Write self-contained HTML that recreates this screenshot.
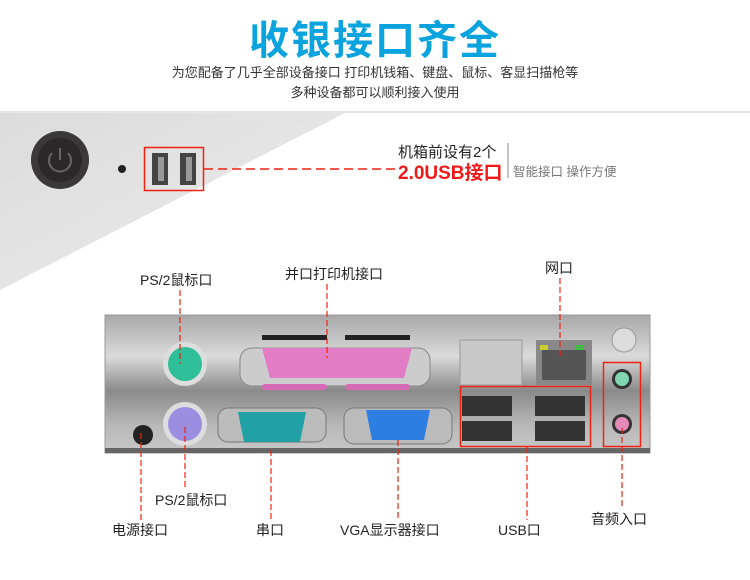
<!DOCTYPE html>
<html><head><meta charset="utf-8"><style>
body{margin:0;width:750px;height:580px;background:#fff;overflow:hidden;font-family:"Liberation Sans","Noto Sans CJK SC",sans-serif;position:relative}
.t{position:absolute;white-space:nowrap}
</style></head><body>
<div class="t" style="left:0;width:750px;top:8px;text-align:center;font-size:40px;font-weight:bold;color:#0aa3dd;letter-spacing:2px">收银接口齐全</div>
<div class="t" style="left:0;width:750px;top:63px;text-align:center;font-size:13px;color:#333;line-height:20px">为您配备了几乎全部设备接口 打印机钱箱、键盘、鼠标、客显扫描枪等<br>多种设备都可以顺利接入使用</div>
<svg width="750" height="580" style="position:absolute;left:0;top:0">
<defs>
<linearGradient id="bg" x1="0" y1="0" x2="1" y2="1"><stop offset="0" stop-color="#dcdcdc"/><stop offset="1" stop-color="#ececec"/></linearGradient>
<linearGradient id="pn" x1="0" y1="0" x2="0" y2="1"><stop offset="0" stop-color="#a8a8a8"/><stop offset=".3" stop-color="#dadada"/><stop offset=".55" stop-color="#8a8a8a"/><stop offset=".8" stop-color="#b8b8b8"/><stop offset="1" stop-color="#c8c8c8"/></linearGradient>
</defs>
<line x1="0" y1="112" x2="750" y2="112" stroke="#ccc"/>
<polygon points="0,113 345,113 0,290" fill="url(#bg)"/>
<circle cx="60" cy="160" r="29" fill="#3a3838"/><circle cx="60" cy="160" r="22" fill="#2a2828"/>
<path d="M52,153 a11,11 0 1,0 16,0" fill="none" stroke="#666" stroke-width="2"/><line x1="60" y1="148" x2="60" y2="160" stroke="#666" stroke-width="2"/>
<circle cx="122" cy="169" r="4" fill="#222"/>
<rect x="152" y="153" width="16" height="32" fill="#444"/><rect x="180" y="153" width="16" height="32" fill="#444"/>
<rect x="158" y="157" width="6" height="24" fill="#999"/><rect x="186" y="157" width="6" height="24" fill="#999"/>
<rect x="144.5" y="147.5" width="59" height="43" fill="none" stroke="#e21" stroke-width="1.5"/>
<line x1="204" y1="169" x2="396" y2="169" stroke="#e21" stroke-width="1.5" stroke-dasharray="9,5"/>
<line x1="508" y1="143" x2="508" y2="178" stroke="#888"/>
<rect x="105" y="315" width="545" height="138" fill="url(#pn)" stroke="#999"/>
<rect x="105" y="448" width="545" height="5" fill="#666"/>
<circle cx="624" cy="340" r="12" fill="#ddd" stroke="#999"/>
<circle cx="185" cy="364" r="22" fill="#ddd"/><circle cx="185" cy="364" r="17" fill="#2fbf98"/>
<circle cx="185" cy="424" r="22" fill="#ddd"/><circle cx="185" cy="424" r="17" fill="#9b8ee0"/>
<circle cx="143" cy="435" r="10" fill="#222"/>
<rect x="240" y="348" width="190" height="38" rx="12" fill="#ccc" stroke="#888"/>
<path d="M262,348 h150 l-8,30 h-134z" fill="#e17cc5"/>
<rect x="262" y="384" width="65" height="6" rx="3" fill="#d86bb5"/><rect x="345" y="384" width="65" height="6" rx="3" fill="#d86bb5"/>
<rect x="262" y="335" width="65" height="5" fill="#222"/><rect x="345" y="335" width="65" height="5" fill="#222"/>
<rect x="218" y="408" width="108" height="34" rx="10" fill="#bbb" stroke="#777"/>
<path d="M238,412 h68 l-6,30 h-56z" fill="#21a0a6"/>
<rect x="344" y="408" width="108" height="36" rx="10" fill="#bbb" stroke="#777"/>
<path d="M366,410 h64 l-6,30 h-52z" fill="#2d7ee0"/>
<rect x="460" y="340" width="62" height="45" fill="#c8c8c8" stroke="#999"/>
<rect x="536" y="340" width="56" height="45" fill="#888"/><rect x="542" y="350" width="44" height="30" fill="#555"/>
<rect x="540" y="345" width="8" height="5" fill="#cc3"/><rect x="575" y="345" width="8" height="5" fill="#4b4"/>
<rect x="462" y="396" width="50" height="20" fill="#333"/><rect x="462" y="421" width="50" height="20" fill="#333"/>
<rect x="535" y="396" width="50" height="20" fill="#333"/><rect x="535" y="421" width="50" height="20" fill="#333"/>
<rect x="460.5" y="386.5" width="130" height="60" fill="none" stroke="#e21" stroke-width="1.5"/>
<circle cx="622" cy="379" r="10" fill="#333"/><circle cx="622" cy="379" r="7" fill="#7fd6b0"/>
<circle cx="622" cy="424" r="10" fill="#333"/><circle cx="622" cy="424" r="7" fill="#e48ab8"/>
<rect x="603.5" y="362.5" width="37" height="84" fill="none" stroke="#e21" stroke-width="1.5"/>
<g stroke="#e21" stroke-width="1.2" stroke-dasharray="6,3">
<line x1="180" y1="290" x2="180" y2="364"/>
<line x1="327" y1="284" x2="327" y2="358"/>
<line x1="560" y1="278" x2="560" y2="357"/>
<line x1="141" y1="433" x2="141" y2="520"/>
<line x1="185" y1="427" x2="185" y2="490"/>
<line x1="271" y1="450" x2="271" y2="520"/>
<line x1="398" y1="440" x2="398" y2="520"/>
<line x1="527" y1="447" x2="527" y2="520"/>
<line x1="622" y1="428" x2="622" y2="507"/>
</g>
</svg>
<div class="t" style="left:398px;top:141px;font-size:15px;color:#222">机箱前设有2个</div>
<div class="t" style="left:398px;top:158px;font-size:19px;font-weight:bold;color:#f01818">2.0USB接口</div>
<div class="t" style="left:513px;top:161px;font-size:12.5px;color:#777">智能接口 操作方便</div>
<div class="t" style="left:140px;top:270px;font-size:14px;color:#222">PS/2鼠标口</div>
<div class="t" style="left:285px;top:264px;font-size:14px;color:#222">并口打印机接口</div>
<div class="t" style="left:545px;top:258px;font-size:14px;color:#222">网口</div>
<div class="t" style="left:155px;top:490px;font-size:14px;color:#222">PS/2鼠标口</div>
<div class="t" style="left:112px;top:520px;font-size:14px;color:#222">电源接口</div>
<div class="t" style="left:256px;top:520px;font-size:14px;color:#222">串口</div>
<div class="t" style="left:340px;top:520px;font-size:14px;color:#222">VGA显示器接口</div>
<div class="t" style="left:498px;top:520px;font-size:14px;color:#222">USB口</div>
<div class="t" style="left:591px;top:509px;font-size:14px;color:#222">音频入口</div>
</body></html>
